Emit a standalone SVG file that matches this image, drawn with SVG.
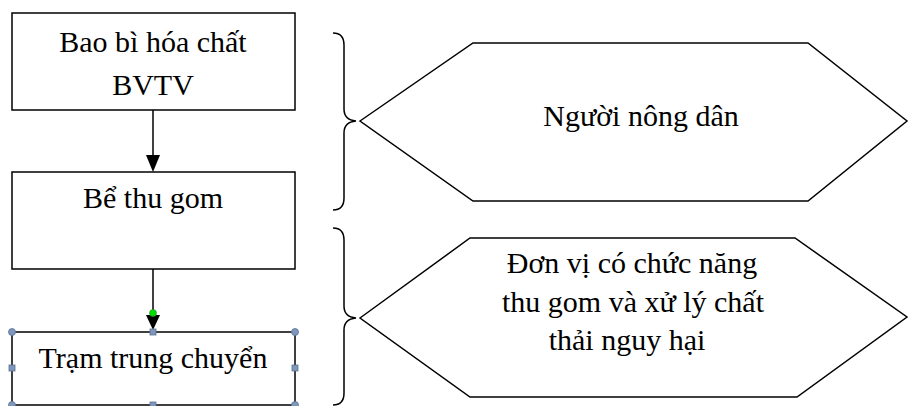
<svg xmlns="http://www.w3.org/2000/svg" width="911" height="406" viewBox="0 0 911 406">
<style>
.box{fill:#fff;stroke:#000;stroke-width:1.5}
.hex{fill:#fff;stroke:#000;stroke-width:1.5;stroke-linejoin:miter}
.brace{fill:none;stroke:#000;stroke-width:1.5}
.t{font-family:"Liberation Serif","Times New Roman",serif;font-size:30px;fill:#000;text-anchor:middle}
.conn{stroke:#000;stroke-width:1.5;fill:none}
.h{fill:#7f97ba;stroke:#5a7194;stroke-width:0.8}
</style>
<defs>
<marker id="ah" viewBox="0 0 14 17" refX="14" refY="7" markerWidth="14" markerHeight="17" markerUnits="userSpaceOnUse" orient="auto">
<path d="M0,0 L14,7 L0,14 Z" fill="#000"/>
</marker>
</defs>
<g id="connectors">
<line class="conn" x1="153" y1="110" x2="153" y2="156"/>
<polygon points="153,172 146,155 160,155" fill="#000"/>
<line class="conn" x1="153" y1="269" x2="153" y2="316"/>
<polygon points="153,330 146,315 160,315" fill="#000"/>
<circle cx="153" cy="313" r="3.5" fill="#00dd00" stroke="#2a8a2a" stroke-width="0.6"/>
</g>
<g id="n1">
<rect class="box" x="12" y="13" width="283" height="97"/>
<text class="t" x="153" y="52">Bao bì hóa chất</text>
<text class="t" x="153" y="95">BVTV</text>
</g>
<g id="n2">
<rect class="box" x="12" y="172" width="283" height="97"/>
<text class="t" x="153" y="208">Bể thu gom</text>
</g>
<g id="n3">
<rect class="box" x="12" y="332" width="283" height="73"/>
<text class="t" x="153" y="368">Trạm trung chuyển</text>
<circle class="h" cx="12" cy="332" r="3.5"/>
<circle class="h" cx="295" cy="332" r="3.5"/>
<circle class="h" cx="12" cy="405" r="3.5"/>
<circle class="h" cx="295" cy="405" r="3.5"/>
<rect class="h" x="150" y="329" width="6" height="6"/>
<rect class="h" x="9" y="365" width="6" height="6"/>
<rect class="h" x="292" y="365" width="6" height="6"/>
<rect class="h" x="150" y="402" width="6" height="6"/>
</g>
<g id="brace1">
<path class="brace" d="M333,33 Q344,33 344,45 L344,109 Q344,120 356,121 Q344,122 344,133 L344,198 Q344,210 333,210"/>
</g>
<g id="hex1">
<polygon class="hex" points="360,121 473,43 808,43 907,121 808,201 473,201"/>
<text class="t" x="641" y="126">Người nông dân</text>
</g>
<g id="brace2">
<path class="brace" d="M333,228 Q344,228 344,240 L344,306 Q344,317 356,318 Q344,319 344,330 L344,393 Q344,405 333,405"/>
</g>
<g id="hex2">
<polygon class="hex" points="360,318 470,238 795,238 907,317 797,397 470,397"/>
<text class="t" x="632" y="273">Đơn vị có chức năng</text>
<text class="t" x="633" y="312">thu gom và xử lý chất</text>
<text class="t" x="627" y="350">thải nguy hại</text>
</g>
</svg>
